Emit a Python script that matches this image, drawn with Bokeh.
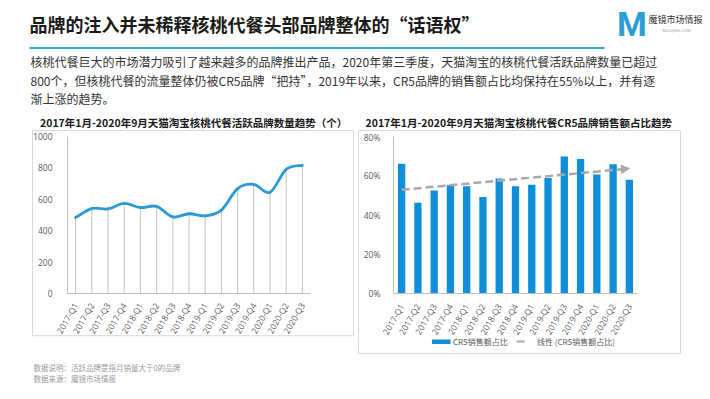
import numpy as np
from bokeh.plotting import figure
from bokeh.models import Range1d, FixedTicker, PrintfTickFormatter, Arrow, NormalHead
from bokeh.layouts import column, row
from bokeh.embed import file_html
from bokeh.resources import INLINE
from bokeh.core.properties import value

# ---------------- data ----------------
quarters = ["2017-Q1", "2017-Q2", "2017-Q3", "2017-Q4",
            "2018-Q1", "2018-Q2", "2018-Q3", "2018-Q4",
            "2019-Q1", "2019-Q2", "2019-Q3", "2019-Q4",
            "2020-Q1", "2020-Q2", "2020-Q3"]
brand_counts = [484, 541, 539, 574, 547, 555, 488, 508, 494, 531, 668, 695, 645, 791, 816]
cr5_share = [66.1, 46.3, 52.5, 55.1, 54.6, 49.2, 58.6, 54.7, 55.4, 58.8, 69.8, 68.5, 60.7, 65.8, 58.0]
left_yticks = [0, 200, 400, 600, 800, 1000]
right_yticks = [0, 20, 40, 60, 80]

title_text = "品牌的注入并未稀释核桃代餐头部品牌整体的“话语权”"
body_lines = [
    "核桃代餐巨大的市场潜力吸引了越来越多的品牌推出产品，2020年第三季度，天猫淘宝的核桃代餐活跃品牌数量已超过",
    "800个，但核桃代餐的流量整体仍被CR5品牌“把持”，2019年以来，CR5品牌的销售额占比均保持在55%以上，并有逐",
    "渐上涨的趋势。",
]
left_title = "2017年1月-2020年9月天猫淘宝核桃代餐活跃品牌数量趋势（个）"
right_title = "2017年1月-2020年9月天猫淘宝核桃代餐CR5品牌销售额占比趋势"
legend_bar = "CRS销售额占比"
legend_trend = "线性 (CRS销售额占比)"
footer_lines = ["数据说明：活跃品牌是指月销量大于0的品牌", "数据来源：魔镜市场情报"]

CJK = value("Noto Sans CJK SC")
LAT = "Open Sans"
PANEL = "#d9d9d9"


def base_fig(w, h, **kw):
    p = figure(width=w, height=h, output_backend="svg", toolbar_location=None, **kw)
    p.outline_line_color = None
    p.background_fill_color = "white"
    p.border_fill_color = "white"
    return p


def style_axes(p, xstand, ystand):
    for ax in p.axis:
        ax.axis_line_color = "#bfbfbf"
        ax.axis_line_width = 1
        ax.major_tick_line_color = None
        ax.minor_tick_line_color = None
        ax.major_label_text_color = "#595959"
        ax.major_label_text_font = LAT
        ax.major_label_text_font_size = "8.5px"
    p.xaxis.major_label_standoff = xstand
    p.yaxis.major_label_standoff = ystand
    p.grid.visible = False


# ---------------- header (page y 0..131) ----------------
HB = 131
hdr = base_fig(702, HB, x_range=Range1d(0, 702), y_range=Range1d(HB, 0),
               x_axis_type=None, y_axis_type=None, min_border=0)
hdr.text(x=[29], y=[23], text=[title_text], text_font=CJK, text_font_size="18px",
         text_font_style="bold", text_color="#1a1a1a", text_baseline="middle")
hdr.segment(x0=[29], y0=[47.5], x1=[604], y1=[47.5], line_color="#34a4dc", line_width=2)
hdr.text(x=[30, 30, 30], y=[61, 80, 98], text=body_lines, text_font=CJK, text_font_size="12px",
         text_color="#333333", text_baseline="middle")
hdr.text(x=[631.5], y=[23], text=["M"], text_font=value("Roboto"), text_font_size="34px",
         text_font_style="bold", text_color="#2a9ed8", text_align="center", text_baseline="middle")
hdr.text(x=[648], y=[18.5], text=["魔镜市场情报"], text_font=CJK, text_font_size="9px",
         text_color="#333333", text_baseline="middle")
hdr.text(x=[662], y=[29.5], text=["MOOJING.COM"], text_font=value(LAT), text_font_size="4px",
         text_color="#999999", text_baseline="middle")
# panel titles and top edges of the two panels
hdr.text(x=[39.5, 365], y=[121.5, 121.5], text=[left_title, right_title], text_font=CJK,
         text_font_size="10.5px", text_font_style="bold", text_color="#1a1a1a",
         text_baseline="middle")
hdr.quad(left=[32, 358], right=[353, 680], top=[130, 130], bottom=[145, 145], fill_color=None,
         line_color=PANEL, line_width=1)

# ---------------- left chart (page x 0..355, y 131..358) ----------------
n = len(quarters)
idx = np.arange(n, dtype=float)
CH = 358 - HB

lp = base_fig(355, CH, x_range=Range1d(-0.5, n - 0.5), y_range=Range1d(0, 1000),
              min_border_left=67, min_border_right=45, min_border_top=136 - HB, min_border_bottom=51)
lp.extra_x_ranges = {"px": Range1d(67, 310)}
lp.extra_y_ranges = {"py": Range1d(307, 136)}
style_axes(lp, 4, 9)
lp.xaxis.ticker = FixedTicker(ticks=list(range(n)))
lp.xaxis.major_label_overrides = {i: q for i, q in enumerate(quarters)}
lp.xaxis.major_label_orientation = np.pi / 3
lp.yaxis.ticker = FixedTicker(ticks=left_yticks)

lp.quad(left=[32], right=[353], top=[120], bottom=[353], fill_color=None,
        line_color=PANEL, line_width=1, x_range_name="px", y_range_name="py", level="overlay")

ys = np.array(brand_counts, dtype=float)
lp.segment(x0=idx, y0=np.zeros(n), x1=idx, y1=ys, line_color="#c4c4c4", line_width=1)
# smooth (Catmull-Rom) curve through the data points, drawn as bezier segments
xpad = np.concatenate([[idx[0]], idx, [idx[-1]]])
ypad = np.concatenate([[ys[0]], ys, [ys[-1]]])
cx0 = xpad[1:n] + (xpad[2:n + 1] - xpad[0:n - 1]) / 6
cy0 = ypad[1:n] + (ypad[2:n + 1] - ypad[0:n - 1]) / 6
cx1 = xpad[2:n + 1] - (xpad[3:n + 2] - xpad[1:n]) / 6
cy1 = ypad[2:n + 1] - (ypad[3:n + 2] - ypad[1:n]) / 6
lp.bezier(x0=xpad[1:n], y0=ypad[1:n], x1=xpad[2:n + 1], y1=ypad[2:n + 1],
          cx0=cx0, cy0=cy0, cx1=cx1, cy1=cy1, line_color="#2a9ad6", line_width=2.8,
          line_cap="round")

# ---------------- right chart (page x 355..702, y 131..358) ----------------
rp = base_fig(347, CH, x_range=Range1d(-0.5, n - 0.5), y_range=Range1d(0, 80),
              min_border_left=38, min_border_right=65, min_border_top=136 - HB, min_border_bottom=65)
rp.extra_x_ranges = {"px": Range1d(393, 637)}
rp.extra_y_ranges = {"py": Range1d(293, 136)}
style_axes(rp, 5, 7)
rp.xaxis.ticker = FixedTicker(ticks=list(range(n)))
rp.xaxis.major_label_overrides = {i: q for i, q in enumerate(quarters)}
rp.xaxis.major_label_orientation = np.pi / 3
rp.yaxis.ticker = FixedTicker(ticks=right_yticks)
rp.yaxis.formatter = PrintfTickFormatter(format="%d%%")

rp.quad(left=[358], right=[680], top=[120], bottom=[353], fill_color=None,
        line_color=PANEL, line_width=1, x_range_name="px", y_range_name="py", level="overlay")

rp.vbar(x=idx, top=cr5_share, width=0.45, fill_color="#118ed8", line_color=None)
coef = np.polyfit(idx, np.array(cr5_share), 1)
trend = Arrow(x_start=float(idx[0]), y_start=float(np.polyval(coef, idx[0])),
              x_end=float(idx[-1]), y_end=float(np.polyval(coef, idx[-1])),
              line_color="#a9a9a9", line_width=2.5, line_dash="8 4",
              end=NormalHead(size=8, fill_color="#a9a9a9", line_color="#a9a9a9", line_width=1))
rp.add_layout(trend)

# legend
rp.quad(left=[431.5], right=[450], top=[339], bottom=[343.5], fill_color="#118ed8", line_color=None,
        x_range_name="px", y_range_name="py", level="overlay")
rp.text(x=[452.5], y=[341], text=[legend_bar], text_font=CJK, text_font_size="8px",
        text_color="#595959", text_baseline="middle", x_range_name="px", y_range_name="py",
        level="overlay")
rp.segment(x0=[516], y0=[341], x1=[524], y1=[341], line_color="#b5b5b5", line_width=2.5,
           x_range_name="px", y_range_name="py", level="overlay")
rp.scatter(x=[529], y=[341], marker="triangle", size=6, angle=-np.pi / 2, fill_color="#b5b5b5",
           line_color="#b5b5b5", x_range_name="px", y_range_name="py", level="overlay")
rp.text(x=[536.5], y=[341], text=[legend_trend], text_font=CJK, text_font_size="8px",
        text_color="#595959", text_baseline="middle", x_range_name="px", y_range_name="py",
        level="overlay")

# ---------------- footer (page y 358..391) ----------------
ftr = base_fig(702, 33, x_range=Range1d(0, 702), y_range=Range1d(391, 358),
               x_axis_type=None, y_axis_type=None, min_border=0)
ftr.text(x=[33, 33], y=[366.7, 377.7], text=footer_lines, text_font=CJK, text_font_size="7.5px",
         text_color="#9a9a9a", text_baseline="middle")

layout = column(hdr, row(lp, rp), ftr)
open("out.html", "w").write(file_html(layout, INLINE))
